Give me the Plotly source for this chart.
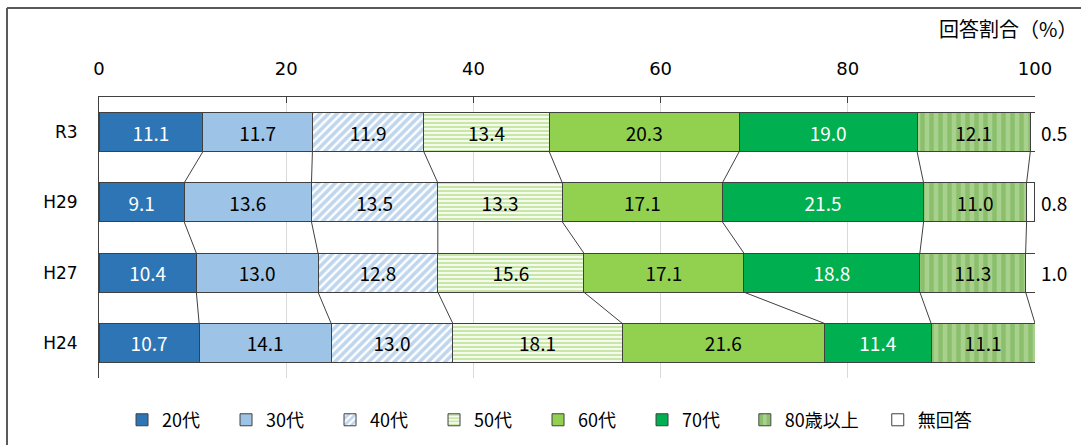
import plotly.graph_objects as go

years = ["R3", "H29", "H27", "H24"]
series_names = ["20代", "30代", "40代", "50代", "60代", "70代", "80歳以上", "無回答"]
v20 = [11.1, 9.1, 10.4, 10.7]
v30 = [11.7, 13.6, 13.0, 14.1]
v40 = [11.9, 13.5, 12.8, 13.0]
v50 = [13.4, 13.3, 15.6, 18.1]
v60 = [20.3, 17.1, 17.1, 21.6]
v70 = [19.0, 21.5, 18.8, 11.4]
v80 = [12.1, 11.0, 11.3, 11.1]
vna = [0.5, 0.8, 1.0, 0.0]
x_ticks = [0, 20, 40, 60, 80, 100]

values = [v20, v30, v40, v50, v60, v70, v80, vna]
fills = ["#2E75B6", "#9DC3E6", "white", "white", "#92D050", "#00B050", "#A9D18E", "white"]
patterns = [None, None,
            dict(shape="/", fgcolor="#7FAEDC", bgcolor="white", size=6, solidity=0.6),
            dict(shape="-", fgcolor="#92D050", bgcolor="white", size=4, solidity=0.6),
            None, None,
            dict(shape="|", fgcolor="#70AD47", bgcolor="#A9D18E", size=9, solidity=0.5),
            None]
text_colors = ["white", "black", "black", "black", "black", "white", "black", "black"]
legend_ids = ["legend"] * 6 + ["legend3", "legend2"]

ypos = list(range(len(years)))
BW = 0.555
LABEL_FONT = "Noto Sans CJK JP"
TICK_FONT = "DejaVu Sans"

fig = go.Figure()
for name, vals, fc, pat, tc, lg in zip(series_names, values, fills, patterns, text_colors, legend_ids):
    marker = dict(color=fc, line=dict(color="#404040", width=1))
    if pat:
        marker["pattern"] = pat
    show_text = name != "無回答"
    fig.add_trace(go.Bar(
        name=name, y=ypos, x=vals, orientation="h", width=BW, marker=marker,
        text=[f"{v:.1f}" for v in vals] if show_text else None,
        textposition="inside" if show_text else "none",
        insidetextanchor="middle", textangle=0,
        insidetextfont=dict(color=tc, size=19, family=LABEL_FONT),
        hoverinfo="skip", legend=lg,
    ))

# connector lines between consecutive bars
cums = []
for i in range(len(years)):
    c, acc = [], 0.0
    for vals in values[:-1]:
        acc += vals[i]
        c.append(round(acc, 2))
    cums.append(c)
lx, ly = [], []
for i in range(len(years) - 1):
    for k in range(len(cums[i])):
        lx += [cums[i][k], cums[i + 1][k], None]
        ly += [ypos[i] + BW / 2, ypos[i + 1] - BW / 2, None]
fig.add_trace(go.Scatter(x=lx, y=ly, mode="lines", line=dict(color="#404040", width=1),
                         showlegend=False, hoverinfo="skip"))

# 無回答 labels outside
for i, v in enumerate(vna):
    if v > 0:
        fig.add_annotation(x=100, y=ypos[i], text=f"{v:.1f}", showarrow=False,
                           xanchor="left", xshift=4, font=dict(size=19, family=LABEL_FONT, color="black"))

fig.add_annotation(x=1.033, y=1.243, xref="paper", yref="paper", text="回答割合（%）",
                   showarrow=False, xanchor="right", yanchor="middle", xshift=13,
                   font=dict(size=20, family=LABEL_FONT, color="black"))

# outer frame (left and top edges)
fig.add_shape(type="line", xref="paper", yref="paper", x0=-0.0983, x1=-0.0983, y0=-0.3, y1=1.3167,
              line=dict(color="#595959", width=2))
fig.add_shape(type="line", xref="paper", yref="paper", x0=-0.0983, x1=1.1, y0=1.3167, y1=1.3167,
              line=dict(color="#595959", width=2))

legend_font = dict(size=18, family=LABEL_FONT, color="black")
LEG_Y = 0.056
common = dict(orientation="h", xanchor="left", y=LEG_Y, yref="container", yanchor="middle",
              font=legend_font, itemwidth=30, bgcolor="rgba(0,0,0,0)")
fig.update_layout(
    barmode="stack",
    width=1081, height=445,
    margin=dict(l=99, r=46, t=97, b=67),
    paper_bgcolor="white", plot_bgcolor="white",
    showlegend=True,
    legend=dict(x=0.0246, traceorder="normal", entrywidth=59, **common),
    legend3=dict(x=0.690, **common),
    legend2=dict(x=0.832, **common),
    xaxis=dict(side="top", range=[0, 100], tickvals=x_ticks, showgrid=True, gridcolor="#D9D9D9",
               gridwidth=1, showline=True, linecolor="#404040", linewidth=1, ticks="inside",
               ticklen=6, tickcolor="#404040", zeroline=False, ticklabelstandoff=14,
               tickfont=dict(size=18, family=TICK_FONT, color="black"), fixedrange=True),
    yaxis=dict(range=[len(years) - 0.5, -0.5], tickvals=ypos, ticktext=years, showgrid=False,
               showline=True, linecolor="#404040", linewidth=1, ticks="", zeroline=False,
               ticklabelstandoff=17, tickfont=dict(size=17, family=TICK_FONT, color="black")),
)

fig.write_html("out.html", post_script="document.body.style.margin='0';",
               config={"displayModeBar": False})
